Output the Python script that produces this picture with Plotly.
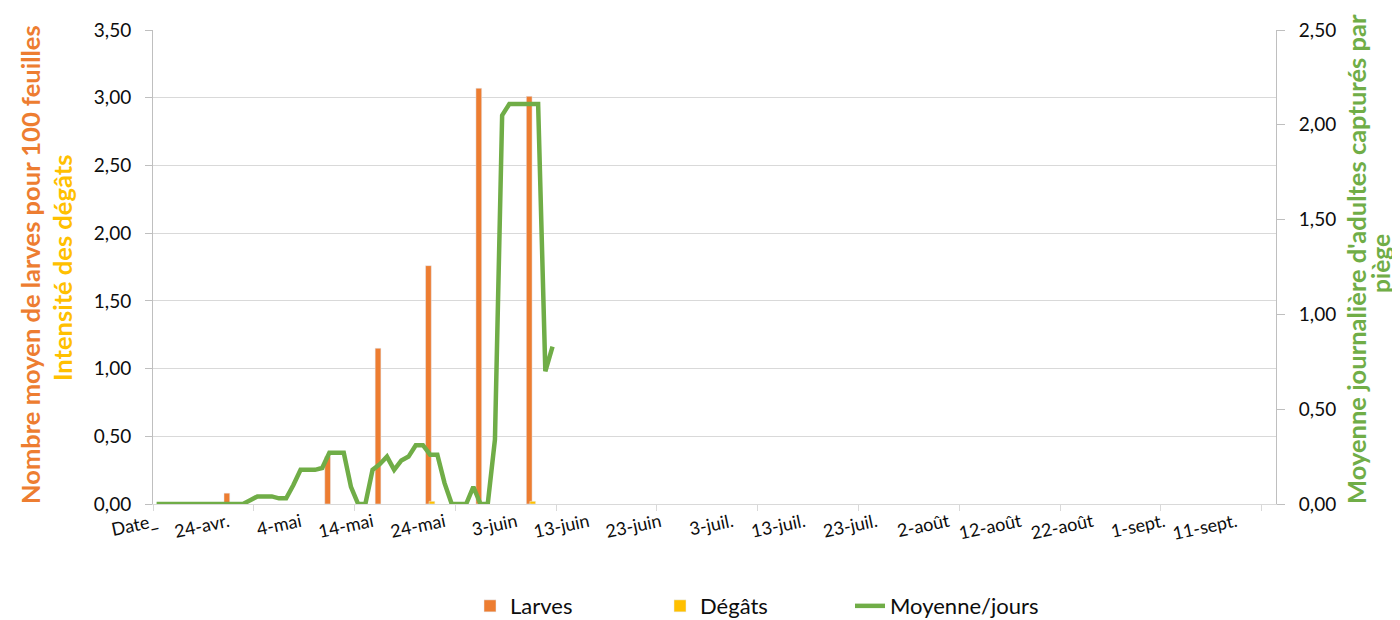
import plotly.graph_objects as go
import pandas as pd

# ---- data ----
tick_dates = ["2023-04-14", "2023-04-24", "2023-05-04", "2023-05-14", "2023-05-24",
              "2023-06-03", "2023-06-13", "2023-06-23", "2023-07-03", "2023-07-13",
              "2023-07-23", "2023-08-02", "2023-08-12", "2023-08-22", "2023-09-01",
              "2023-09-11"]
tick_labels = ["Date_", "24-avr.", "4-mai", "14-mai", "24-mai", "3-juin", "13-juin",
               "23-juin", "3-juil.", "13-juil.", "23-juil.", "2-août", "12-août",
               "22-août", "1-sept.", "11-sept."]

larves_dates = ["2023-04-24", "2023-05-08", "2023-05-15", "2023-05-22", "2023-05-29", "2023-06-05"]
larves_vals = [0.08, 0.35, 1.15, 1.76, 3.07, 3.01]

degats_dates = ["2023-05-22", "2023-06-05"]
degats_vals = [0.02, 0.02]

moyenne_start = "2023-04-14"
moyenne_vals = [0, 0, 0, 0, 0, 0, 0, 0, 0, 0, 0, 0, 0,
                0.02, 0.04, 0.04, 0.04, 0.03, 0.03, 0.10, 0.18, 0.18, 0.18, 0.19,
                0.27, 0.27, 0.27, 0.09, 0.00, 0.00, 0.18, 0.21, 0.25, 0.18, 0.23,
                0.25, 0.31, 0.31, 0.26, 0.26, 0.11, 0.00, 0.00, 0.00, 0.09, 0.00,
                0.00, 0.34, 2.05, 2.11, 2.11, 2.11, 2.11, 2.11, 0.70, 0.83]
moyenne_dates = pd.date_range(moyenne_start, periods=len(moyenne_vals))

x_range = ["2023-04-13 12:00", "2023-09-16 12:00"]

ORANGE = "#ED7D31"
YELLOW = "#FFC000"
GREEN = "#70AD47"
GRID = "#D9D9D9"
AXIS = "#BFBFBF"
DAY = 86400000
FONT = "Lato"

fig = go.Figure()
fig.add_trace(go.Bar(x=larves_dates, y=larves_vals, name="Larves", marker_color=ORANGE,
                     width=0.8 * DAY, offset=-0.64 * DAY, yaxis="y"))
fig.add_trace(go.Bar(x=degats_dates, y=degats_vals, name="Dégâts", marker_color=YELLOW,
                     width=0.8 * DAY, offset=-0.15 * DAY, yaxis="y"))
fig.add_trace(go.Scatter(x=moyenne_dates, y=moyenne_vals, name="Moyenne/jours", mode="lines",
                         line=dict(color=GREEN, width=4.5), yaxis="y2"))

# page body adds an 8px offset; figure sized to fit the window
fig.update_layout(
    width=1392, height=612,
    margin=dict(l=145, r=124, t=22, b=116, autoexpand=False),
    paper_bgcolor="white", plot_bgcolor="white",
    separators=", ",
    font=dict(family=FONT, size=19, color="#0d0d0d"),
    barmode="overlay",
    legend=dict(orientation="h", x=(470 - 153) / 1123, y=-0.171, xanchor="left", yanchor="top",
                font=dict(size=22), entrywidth=145, entrywidthmode="pixels"),
    xaxis=dict(type="date", range=x_range, tickmode="array", tickvals=tick_dates,
               ticktext=tick_labels, tickangle=-12, ticks="", showgrid=False,
               showline=True, linecolor=GRID, linewidth=1, zeroline=False,
               tickfont=dict(size=18), automargin=False,
               minor=dict(tickmode="linear", tick0=x_range[0], dtick=14 * DAY,
                          ticks="outside", ticklen=6, tickcolor=GRID, showgrid=False)),
    yaxis=dict(range=[0, 3.5], tickmode="linear", tick0=0, dtick=0.5, tickformat=".2f",
               showgrid=True, gridcolor=GRID, gridwidth=1, showline=True, linecolor=AXIS,
               ticks="outside", ticklen=7, tickcolor=AXIS, zeroline=False,
               ticklabelstandoff=10, automargin=False),
    yaxis2=dict(overlaying="y", side="right", range=[0, 2.5], tickmode="linear", tick0=0,
                dtick=0.5, tickformat=".2f", showgrid=False, showline=True, linecolor=AXIS,
                ticks="outside", ticklen=8, tickcolor=AXIS, zeroline=False,
                ticklabelstandoff=10, automargin=False),
)

title_font = dict(family=FONT, size=25.5)
fig.add_annotation(text="<b>Nombre moyen de larves pour 100 feuilles</b>", textangle=-90,
                   xref="paper", yref="paper", x=0, y=0.5, xshift=30 - 153, yshift=2,
                   xanchor="center", yanchor="middle", showarrow=False,
                   font=dict(title_font, color=ORANGE))
fig.add_annotation(text="<b>Intensité des dégâts</b>", textangle=-90,
                   xref="paper", yref="paper", x=0, y=0.5, xshift=62 - 153, yshift=-1,
                   xanchor="center", yanchor="middle", showarrow=False,
                   font=dict(title_font, color=YELLOW))
fig.add_annotation(text="<b>Moyenne journalière d'adultes capturés par</b>", textangle=-90,
                   xref="paper", yref="paper", x=1, y=0.5, xshift=1356 - 1276, yshift=8,
                   xanchor="center", yanchor="middle", showarrow=False,
                   font=dict(title_font, color=GREEN))
fig.add_annotation(text="<b>piège</b>", textangle=-90,
                   xref="paper", yref="paper", x=1, y=0.5, xshift=1380 - 1276, yshift=3,
                   xanchor="center", yanchor="middle", showarrow=False, borderpad=0,
                   font=dict(family=FONT, size=24.5, color=GREEN))

fig.write_html("out.html")
